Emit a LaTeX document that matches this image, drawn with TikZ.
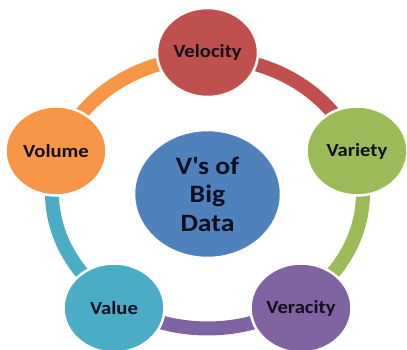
\documentclass[tikz,border=0pt]{standalone}
\usepackage{fontspec}
\setmainfont{Carlito}[FakeStretch=1.11]
\usetikzlibrary{shapes.geometric}

\definecolor{vred}{HTML}{C0504D}
\definecolor{vgreen}{HTML}{9BBB59}
\definecolor{vpurple}{HTML}{8064A2}
\definecolor{vcyan}{HTML}{4BACC6}
\definecolor{vorange}{HTML}{F79646}
\definecolor{vblue}{HTML}{4F81BD}
\definecolor{vtext}{HTML}{0F0F1E}

\begin{document}
\begin{tikzpicture}[x=1pt,y=1pt,
    vnode/.style={ellipse,draw=white,line width=2.5pt,inner sep=0pt,
                  minimum width=101,minimum height=89,text=vtext,
                  font=\fontsize{18.6}{20}\selectfont\bfseries},
    hub/.style={ellipse,draw=white,line width=2.5pt,fill=vblue,inner sep=0pt,
                minimum width=147,minimum height=128,text=vtext,align=center,
                font=\fontsize{25}{28.5}\selectfont\bfseries},
    ring/.style={line width=14pt}]

        \useasboundingbox (0,0) rectangle (407,349);
        \clip (0,0) rectangle (407,349);

        % ring round the centre
        \coordinate (rc) at (207.5,156);
        \draw[ring,vred]    (rc) ++(17.9:155.5 and 135.5)
            arc[start angle=17.9,end angle=90,x radius=155.5,y radius=135.5];
        \draw[ring,vorange] (rc) ++(90:155.5 and 135.5)
            arc[start angle=90,end angle=162.1,x radius=155.5,y radius=135.5];
        \draw[ring,vcyan]   (rc) ++(162.1:155.5 and 135.5)
            arc[start angle=162.1,end angle=234.7,x radius=155.5,y radius=135.5];
        \draw[ring,vpurple] (rc) ++(234.7:155.5 and 135.5)
            arc[start angle=234.7,end angle=305.3,x radius=155.5,y radius=135.5];
        \draw[ring,vgreen]  (rc) ++(305.3:155.5 and 135.5)
            arc[start angle=305.3,end angle=377.9,x radius=155.5,y radius=135.5];

        \node[hub] (big) at (207.5,155) {V\textquotesingle s of\\Big\\Data};

        \node[vnode,fill=vred]    (velocity) at (207.5,296.5) {Velocity};
        \node[vnode,fill=vgreen]  (variety)  at (357,198)     {Variety};
        \node[vnode,fill=vpurple] (veracity) at (301,41)      {Veracity};
        \node[vnode,fill=vcyan]   (value)    at (114,41)      {Value};
        \node[vnode,fill=vorange] (volume)   at (56,198)      {Volume};
      \end{tikzpicture}
\end{document}
